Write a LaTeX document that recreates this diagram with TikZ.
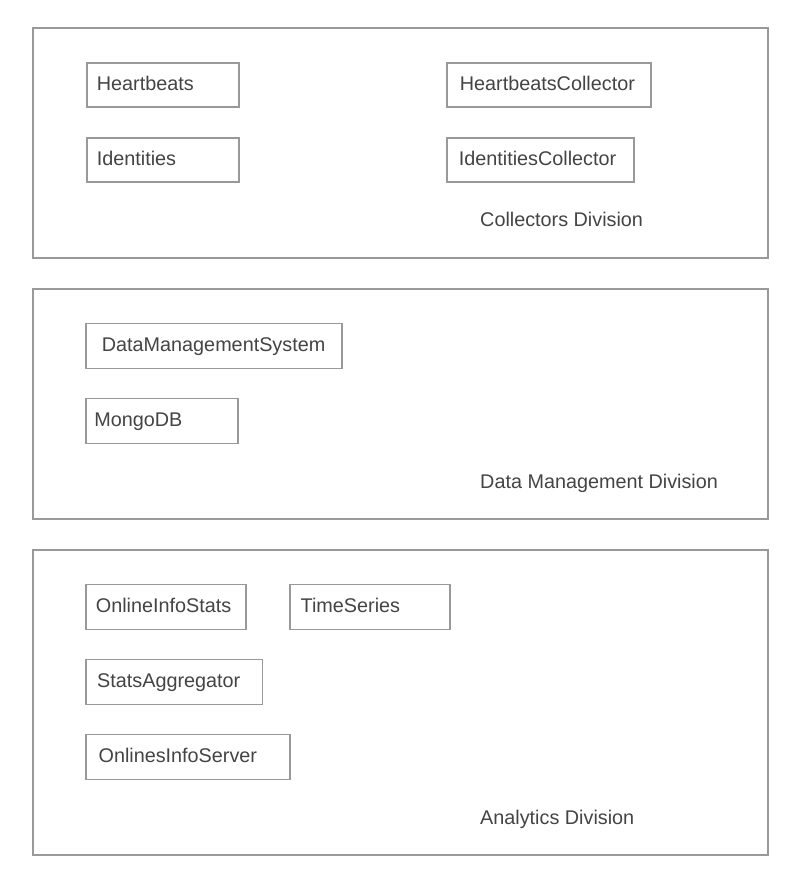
\documentclass[tikz,border=0pt]{standalone}
\usepackage{fontspec}
\setmainfont{Liberation Sans}
\definecolor{boxgray}{HTML}{999999}
\definecolor{txtgray}{HTML}{444444}
\begin{document}
\begin{tikzpicture}[x=1pt,y=-1pt,
  division/.style={draw=boxgray,line width=1.8pt,anchor=north west,inner sep=0pt},
  comp/.style={draw=boxgray,line width=1.8pt,anchor=north west,inner ysep=0pt,
    align=left,text=txtgray,font=\fontsize{19.8}{23}\selectfont,
    text height=15.5pt,text depth=3.7pt},
  divlabel/.style={anchor=base west,inner sep=0pt,text=txtgray,font=\fontsize{19.8}{23}\selectfont}]
\useasboundingbox (0,0) rectangle (797,886);
\fill[white] (0,0) rectangle (797,886);
% divisions
\node[division,minimum width=735pt,minimum height=230pt] (coll) at (32,27) {};
\node[division,minimum width=735pt,minimum height=230pt] (dm) at (32,288) {};
\node[division,minimum width=735pt,minimum height=305pt] (ana) at (32,549) {};
% Collectors
\node[comp,inner xsep=10pt,text width=131.7pt,minimum height=44pt] (hb) at (86,62) {Heartbeats};
\node[comp,inner xsep=10pt,text width=131.7pt,minimum height=44pt] (id) at (86,137) {Identities};
\node[comp,inner xsep=13pt,text width=178pt,minimum height=44pt] (hbc) at (446,62) {HeartbeatsCollector};
\node[comp,inner xsep=12pt,text width=162.7pt,minimum height=44pt] (idc) at (446,137) {IdentitiesCollector};
\node[divlabel] (colllab) at (480,226) {Collectors Division};
% Data management
\node[comp,inner xsep=16pt,text width=223.7pt,minimum height=45pt] (dms) at (85,322.5) {DataManagementSystem};
\node[comp,inner xsep=8.5pt,text width=134.7pt,minimum height=45pt] (mongo) at (85,397.5) {MongoDB};
\node[divlabel] (dmlab) at (480,488.5) {Data Management Division};
% Analytics
\node[comp,inner xsep=10pt,text width=140pt,minimum height=45pt] (ois) at (85,583.5) {OnlineInfoStats};
\node[comp,inner xsep=10.5pt,text width=138.7pt,minimum height=45pt] (ts) at (289.3,583.5) {TimeSeries};
\node[comp,inner xsep=11.3pt,text width=154pt,minimum height=45pt] (sa) at (85,658.5) {StatsAggregator};
\node[comp,inner xsep=12.7pt,text width=178.3pt,minimum height=45pt] (oisrv) at (85,733.5) {OnlinesInfoServer};
\node[divlabel] (analab) at (480,824) {Analytics Division};
\end{tikzpicture}
\end{document}
